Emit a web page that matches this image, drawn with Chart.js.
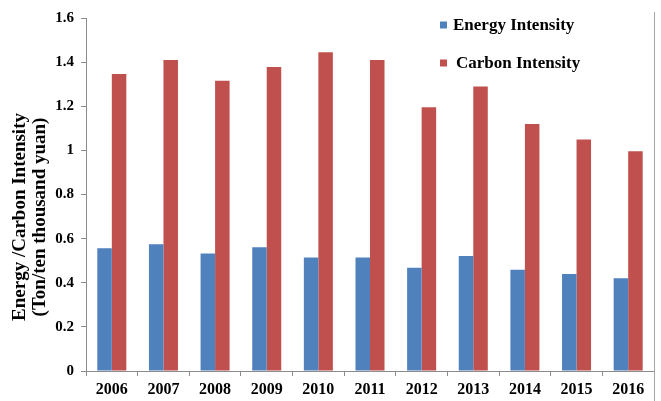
<!DOCTYPE html>
<html>
<head>
<meta charset="utf-8">
<script src="https://cdn.jsdelivr.net/npm/chart.js@4/dist/chart.umd.min.js"></script>
<style>
  html, body { margin: 0; padding: 0; background: #fff; }
  #wrap { width: 661px; height: 401px; }
</style>
</head>
<body>
<div id="wrap"><canvas id="intensityChart"></canvas></div>
<script>
  const years = ['2006', '2007', '2008', '2009', '2010', '2011', '2012', '2013', '2014', '2015', '2016'];
  const energyIntensity = [0.556, 0.574, 0.533, 0.561, 0.515, 0.515, 0.468, 0.521, 0.459, 0.44, 0.42];
  const carbonIntensity = [1.346, 1.41, 1.316, 1.378, 1.445, 1.41, 1.195, 1.29, 1.12, 1.049, 0.996];
  const yTicks = [0, 0.2, 0.4, 0.6, 0.8, 1, 1.2, 1.4, 1.6];
  const yTitle = ['Energy /Carbon Intensity', '(Ton/ten thousand yuan)'];

  const serif = '"Liberation Serif", "Times New Roman", serif';
  const axisGray = '#8c8c8c';

  // Rotated two-line y title, legend inside the plot and the frame edge on the right
  const extras = {
    id: 'extras',
    afterDraw(chart) {
      const ctx = chart.ctx;
      const area = chart.chartArea;

      ctx.save();
      ctx.font = 'bold 19px ' + serif;
      ctx.fillStyle = '#000';
      ctx.textAlign = 'center';
      ctx.textBaseline = 'middle';
      const cy = 217;
      [20, 40].forEach((x, i) => {
        ctx.save();
        ctx.translate(x, cy);
        ctx.rotate(-Math.PI / 2);
        ctx.fillText(yTitle[i], 0, 0);
        ctx.restore();
      });
      ctx.restore();

      ctx.save();
      ctx.font = 'bold 17px ' + serif;
      ctx.textBaseline = 'middle';
      ctx.textAlign = 'left';
      const rows = [{ y: 25, tx: 453 }, { y: 63, tx: 456 }];
      chart.data.datasets.forEach((ds, i) => {
        const r = rows[i];
        ctx.fillStyle = ds.backgroundColor;
        ctx.fillRect(440, r.y - 3.5, 7, 7);
        ctx.fillStyle = '#000';
        ctx.fillText(ds.label, r.tx, r.y + 1);
      });
      ctx.restore();

      ctx.save();
      ctx.strokeStyle = '#a6a6a6';
      ctx.lineWidth = 1;
      ctx.beginPath();
      ctx.moveTo(area.right + 0.5, 12);
      ctx.lineTo(area.right + 0.5, chart.height);
      ctx.stroke();
      ctx.restore();
    }
  };

  const ctx = document.getElementById('intensityChart').getContext('2d');
  new Chart(ctx, {
    type: 'bar',
    data: {
      labels: years,
      datasets: [{
        label: 'Energy Intensity',
        data: energyIntensity,
        backgroundColor: '#4f81bd',
        categoryPercentage: 0.562,
        barPercentage: 1.0
      }, {
        label: 'Carbon Intensity',
        data: carbonIntensity,
        backgroundColor: '#c0504d',
        categoryPercentage: 0.562,
        barPercentage: 1.0
      }]
    },
    options: {
      responsive: true,
      maintainAspectRatio: false,
      animation: false,
      layout: { padding: { top: 18, right: 7, left: 0, bottom: 0 } },
      scales: {
        x: {
          grid: {
            offset: true,
            drawOnChartArea: false,
            drawTicks: true,
            tickLength: 5,
            color: axisGray
          },
          border: { color: axisGray },
          ticks: {
            color: '#000',
            padding: 4,
            maxRotation: 0,
            font: { family: serif, size: 16, weight: 'bold' }
          },
          afterFit: (scale) => { scale.height = 30; }
        },
        y: {
          min: 0,
          max: 1.6,
          afterBuildTicks: (scale) => { scale.ticks = yTicks.map(v => ({ value: v })); },
          grid: {
            drawOnChartArea: false,
            tickLength: 5,
            color: axisGray
          },
          border: { color: axisGray },
          ticks: {
            color: '#000',
            padding: 7,
            font: { family: serif, size: 15, weight: 'bold' },
            callback: (v) => String(+Number(v).toFixed(1))
          },
          afterFit: (scale) => { scale.width = 86; }
        }
      },
      plugins: {
        legend: { display: false },
        tooltip: { enabled: false }
      }
    },
    plugins: [extras]
  });
</script>
</body>
</html>
